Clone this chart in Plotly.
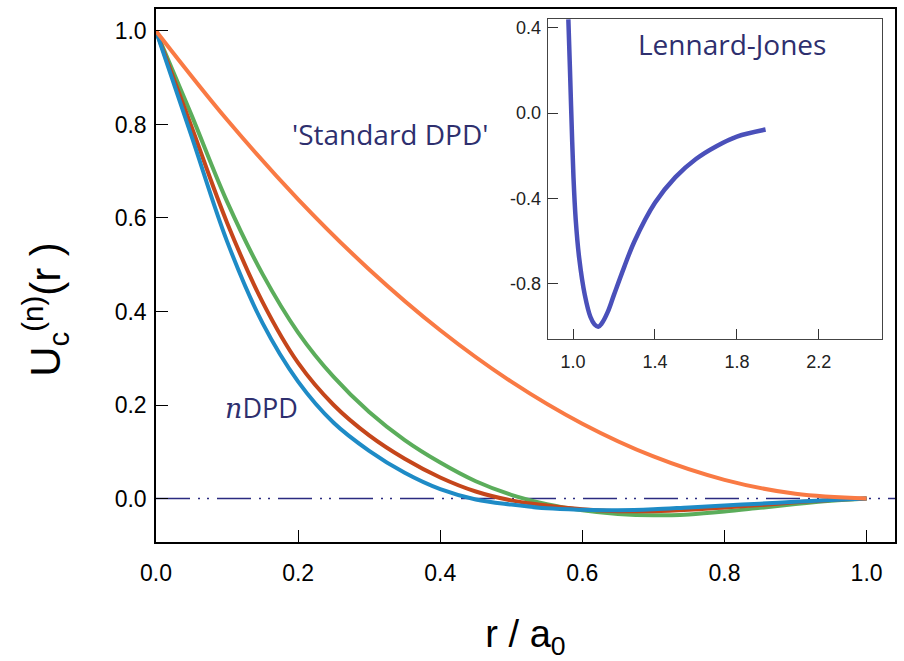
import plotly.graph_objects as go

# ---- data ----
r = [0.0, 0.05, 0.1, 0.15, 0.2, 0.25, 0.3, 0.35, 0.4, 0.45, 0.5,
     0.55, 0.6, 0.65, 0.7, 0.75, 0.8, 0.85, 0.9, 0.95, 1.0]

u_blue = [1.0, 0.775, 0.55, 0.375, 0.25, 0.162, 0.102, 0.055, 0.02, -0.002, -0.013,
          -0.021, -0.024, -0.025, -0.023, -0.019, -0.015, -0.011, -0.007, -0.003, 0.0]
u_red = [1.0, 0.795, 0.59, 0.42, 0.29, 0.2, 0.135, 0.085, 0.045, 0.015, -0.004,
         -0.015, -0.023, -0.027, -0.027, -0.024, -0.019, -0.014, -0.008, -0.003, 0.0]
u_green = [1.0, 0.82, 0.635, 0.48, 0.355, 0.26, 0.185, 0.125, 0.077, 0.037, 0.008,
           -0.012, -0.025, -0.033, -0.036, -0.034, -0.028, -0.02, -0.012, -0.005, 0.0]

r_std = [0.0, 0.1, 0.2, 0.3, 0.4, 0.5, 0.6, 0.7, 0.8, 0.9, 1.0]
u_std = [1.0, 0.81, 0.64, 0.49, 0.36, 0.25, 0.16, 0.09, 0.04, 0.01, 0.0]

zero_x = [0.0, 1.04]
zero_y = [0.0, 0.0]

r_lj = [0.977, 0.985, 0.993, 1.002, 1.013, 1.03, 1.057, 1.085, 1.105, 1.123,
        1.14, 1.17, 1.2, 1.25, 1.3, 1.4, 1.5, 1.6, 1.7, 1.8, 1.94]
u_lj = [0.44, 0.2, -0.05, -0.3, -0.5, -0.68, -0.85, -0.955, -0.99, -1.0,
        -0.985, -0.93, -0.85, -0.72, -0.60, -0.42, -0.30, -0.215, -0.155, -0.11, -0.077]

main_ticks = [0.0, 0.2, 0.4, 0.6, 0.8, 1.0]
main_ticktext = ["0.0", "0.2", "0.4", "0.6", "0.8", "1.0"]
inset_xticks = [1.0, 1.4, 1.8, 2.2]
inset_xtext = ["1.0", "1.4", "1.8", "2.2"]
inset_yticks = [0.4, 0.0, -0.4, -0.8]
inset_ytext = ["0.4", "0.0", "-0.4", "-0.8"]

NAVY = "#2E2F6E"
SANS = "Liberation Sans, Arial, sans-serif"

fig = go.Figure()
fig.add_trace(go.Scatter(x=zero_x, y=zero_y, mode="lines",
                         line=dict(color="#2B2B80", width=1.5,
                                   dash="34px,8px,2px,7px,2px,8px"),
                         hoverinfo="skip"))
fig.add_trace(go.Scatter(x=r, y=u_green, mode="lines",
                         line=dict(color="#5BAD5B", width=4, shape="spline")))
fig.add_trace(go.Scatter(x=r, y=u_red, mode="lines",
                         line=dict(color="#C5461B", width=4, shape="spline")))
fig.add_trace(go.Scatter(x=r, y=u_blue, mode="lines",
                         line=dict(color="#1E8BC6", width=4, shape="spline")))
fig.add_trace(go.Scatter(x=r_std, y=u_std, mode="lines",
                         line=dict(color="#F97A44", width=4, shape="spline")))
fig.add_trace(go.Scatter(x=r_lj, y=u_lj, mode="lines", xaxis="x2", yaxis="y2",
                         line=dict(color="#4A50BA", width=4.5, shape="spline")))

tickfont = dict(family=SANS, size=23, color="black")
inset_font = dict(family=SANS, size=18, color="#222")

fig.update_layout(
    width=904, height=661,
    margin=dict(l=156, r=8, t=7, b=119),
    plot_bgcolor="white", paper_bgcolor="white",
    showlegend=False,
    xaxis=dict(range=[0, 1.04], tickvals=main_ticks, ticktext=main_ticktext,
               ticks="inside", ticklen=12, tickcolor="black", tickwidth=1,
               showline=True, linecolor="black", linewidth=1.5, mirror=True,
               showgrid=False, zeroline=False, tickfont=tickfont,
               ticklabelstandoff=10,
               title=dict(text="r / a<sub>0</sub>",
                          font=dict(family=SANS, size=38, color="black"),
                          standoff=37)),
    yaxis=dict(range=[-0.093, 1.047], tickvals=main_ticks, ticktext=main_ticktext,
               ticks="inside", ticklen=12, tickcolor="black", tickwidth=1,
               showline=True, linecolor="black", linewidth=1.5, mirror=True,
               showgrid=False, zeroline=False, tickfont=tickfont,
               ticklabelstandoff=3),
    xaxis2=dict(domain=[0.530, 0.982], anchor="y2", range=[0.876, 2.507],
                tickvals=inset_xticks, ticktext=inset_xtext,
                ticks="inside", ticklen=10, tickcolor="#333", tickwidth=1,
                showline=True, linecolor="#444", linewidth=1, mirror=True,
                showgrid=False, zeroline=False, tickfont=inset_font,
                ticklabelstandoff=6),
    yaxis2=dict(domain=[0.380, 0.981], anchor="x2", range=[-1.06, 0.44],
                tickvals=inset_yticks, ticktext=inset_ytext,
                ticks="inside", ticklen=10, tickcolor="#333", tickwidth=1,
                showline=True, linecolor="#444", linewidth=1, mirror=True,
                showgrid=False, zeroline=False, tickfont=inset_font,
                ticklabelstandoff=2),
    annotations=[
        dict(x=-0.15, y=0.436, xref="paper", yref="paper",
             text="U<sub>c</sub><sup>(n)</sup>(r )", textangle=-90,
             xanchor="center", yanchor="middle", showarrow=False,
             font=dict(family=SANS, size=42, color="black")),
        dict(x=0.33, y=0.78, xref="x", yref="y", text="'Standard DPD'",
             showarrow=False, font=dict(family="Open Sans, sans-serif", size=28, color=NAVY)),
        dict(x=0.149, y=0.195, xref="x", yref="y",
             text="<span style='font-family:DejaVu Serif'><i>n</i></span>DPD",
             showarrow=False, font=dict(family="Open Sans, sans-serif", size=27, color=NAVY)),
        dict(x=1.775, y=0.325, xref="x2", yref="y2", text="Lennard-Jones",
             showarrow=False, font=dict(family="Open Sans, sans-serif", size=28, color=NAVY)),
    ],
)

fig.write_html("out.html")
